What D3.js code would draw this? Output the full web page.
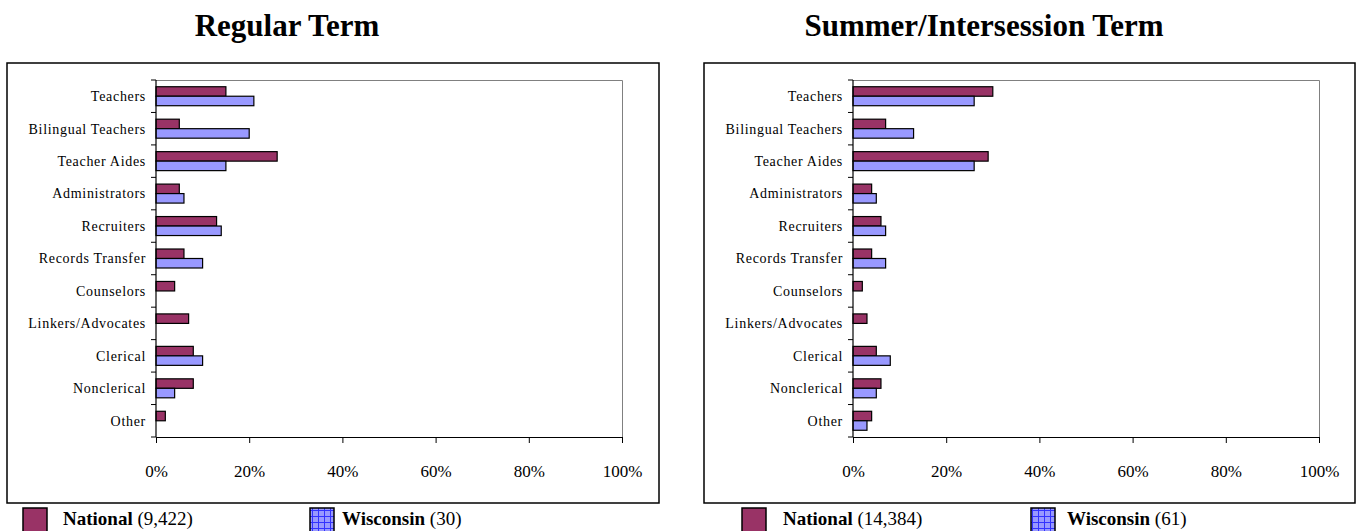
<!DOCTYPE html>
<html>
<head>
<meta charset="utf-8">
<script src="https://cdn.jsdelivr.net/npm/d3@7"></script>
<style>
  html, body { margin: 0; padding: 0; background: #fff; }
  svg { display: block; }
</style>
</head>
<body>
<svg id="chart" width="1358" height="531"></svg>
<script>
const categories = ["Teachers", "Bilingual Teachers", "Teacher Aides", "Administrators", "Recruiters",
  "Records Transfer", "Counselors", "Linkers/Advocates", "Clerical", "Nonclerical", "Other"];
const regularNational  = [15, 5, 26, 5, 13, 6, 4, 7, 8, 8, 2];
const regularWisconsin = [21, 20, 15, 6, 14, 10, 0, 0, 10, 4, 0];
const summerNational   = [30, 7, 29, 4, 6, 4, 2, 3, 5, 6, 4];
const summerWisconsin  = [26, 13, 26, 5, 7, 7, 0, 0, 8, 5, 3];
const tickValues = [0, 20, 40, 60, 80, 100];
const seriesNames = ["National", "Wisconsin"];
const regularCounts = ["(9,422)", "(30)"];
const summerCounts = ["(14,384)", "(61)"];
const titles = ["Regular Term", "Summer/Intersession Term"];

const colors = { National: "#993366", Wisconsin: "#9999FF" };
const serif = "'Liberation Serif', 'Times New Roman', serif";

const svg = d3.select("#chart");

const defs = svg.append("defs");
const pat = defs.append("pattern").attr("id", "wisGrid")
  .attr("patternUnits", "userSpaceOnUse").attr("width", 6).attr("height", 6)
  .attr("x", 0).attr("y", 0);
pat.append("rect").attr("width", 6).attr("height", 6).attr("fill", "#9999FF");
pat.append("path").attr("d", "M0,0.5H6M0.5,0V6").attr("stroke", "#3333FF").attr("stroke-width", 1);

const panels = [
  { title: titles[0], titleX: 287, box: [7, 63, 659, 503], x0: 156, x1: 622,
    nat: regularNational, wis: regularWisconsin, counts: regularCounts,
    legend: [{sq: 23, tx: 63}, {sq: 310, tx: 342}] },
  { title: titles[1], titleX: 984, box: [704, 63, 1355, 503], x0: 853, x1: 1319,
    nat: summerNational, wis: summerWisconsin, counts: summerCounts,
    legend: [{sq: 742, tx: 783}, {sq: 1031, tx: 1067}] }
];

const plotTop = 80, plotBottom = 437;

panels.forEach(p => {
  const g = svg.append("g");

  // title
  g.append("text").attr("x", p.titleX).attr("y", 36)
    .attr("text-anchor", "middle").attr("font-family", serif)
    .attr("font-weight", "bold").attr("font-size", 31).attr("fill", "#000")
    .text(p.title);

  // outer box
  g.append("rect").attr("x", p.box[0]).attr("y", p.box[1])
    .attr("width", p.box[2] - p.box[0]).attr("height", p.box[3] - p.box[1])
    .attr("fill", "none").attr("stroke", "#000").attr("stroke-width", 1.5);

  const x = d3.scaleLinear().domain([0, 100]).range([p.x0, p.x1]);
  const y0 = d3.scaleBand().domain(categories).range([plotTop, plotBottom])
    .paddingInner(0.415).paddingOuter(0.2075);
  const y1 = d3.scaleBand().domain(seriesNames).range([0, y0.bandwidth()]);

  // plot area frame (gray top and right)
  g.append("path")
    .attr("d", `M${x(0)},${plotTop + 0.5}H${x(100) + 0.5}V${plotBottom}`)
    .attr("fill", "none").attr("stroke", "#808080").attr("stroke-width", 1);

  // bars
  const rows = categories.map((c, i) => ({ cat: c, vals: [
    { s: "National", v: p.nat[i] }, { s: "Wisconsin", v: p.wis[i] } ] }));
  const grp = g.selectAll("g.cat").data(rows).join("g")
    .attr("transform", d => `translate(0,${y0(d.cat)})`);
  grp.selectAll("rect").data(d => d.vals.filter(v => v.v > 0)).join("rect")
    .attr("x", x(0))
    .attr("y", d => y1(d.s))
    .attr("width", d => x(d.v) - x(0))
    .attr("height", y1.bandwidth())
    .attr("fill", d => colors[d.s])
    .attr("stroke", "#000").attr("stroke-width", 1.2);

  // y axis: line + ticks at band boundaries
  const step = y0.step();
  const bounds = d3.range(categories.length + 1).map(i => plotTop + i * step);
  g.append("line").attr("x1", x(0)).attr("x2", x(0))
    .attr("y1", plotTop).attr("y2", plotBottom)
    .attr("stroke", "#000").attr("stroke-width", 1.2);
  g.selectAll("line.ytick").data(bounds).join("line").attr("class", "ytick")
    .attr("x1", x(0) - 5).attr("x2", x(0)).attr("y1", d => d).attr("y2", d => d)
    .attr("stroke", "#000").attr("stroke-width", 1);

  // category labels
  g.selectAll("text.cat").data(categories).join("text").attr("class", "cat")
    .attr("x", x(0) - 10)
    .attr("y", d => y0(d) + y0.bandwidth() / 2)
    .attr("dy", "0.35em")
    .attr("text-anchor", "end").attr("font-family", serif)
    .attr("font-size", 14).attr("letter-spacing", "0.7px").attr("fill", "#000")
    .text(d => d);

  // x axis
  const xAxis = d3.axisBottom(x).tickValues(tickValues)
    .tickFormat(d => d + "%").tickSize(6).tickPadding(22);
  const ax = g.append("g").attr("transform", `translate(0,${plotBottom})`).call(xAxis);
  ax.select(".domain").attr("stroke", "#000").attr("stroke-width", 1.2)
    .attr("d", `M${x(0)},0.5H${x(100)}`);
  ax.selectAll(".tick line").attr("stroke", "#000");
  ax.selectAll(".tick text").attr("font-family", serif).attr("font-size", 17)
    .attr("fill", "#000");

  // legend
  seriesNames.forEach((s, i) => {
    const L = p.legend[i];
    g.append("rect").attr("x", L.sq).attr("y", 508).attr("width", 24).attr("height", 26)
      .attr("fill", s === "Wisconsin" ? "url(#wisGrid)" : colors[s])
      .attr("stroke", "#000").attr("stroke-width", 1.5);
    const t = g.append("text").attr("x", L.tx).attr("y", 525)
      .attr("font-family", serif).attr("font-size", 19).attr("fill", "#000");
    t.append("tspan").attr("font-weight", "bold").text(s);
    t.append("tspan").text(" " + p.counts[i]);
  });
});
</script>
</body>
</html>
